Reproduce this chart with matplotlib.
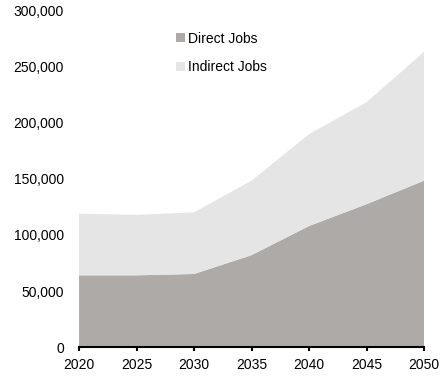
import matplotlib
matplotlib.use("Agg")
import matplotlib.pyplot as plt
from matplotlib.ticker import FuncFormatter

years = [2020, 2025, 2030, 2035, 2040, 2045, 2050]
direct_jobs = [64000, 64000, 65200, 82000, 108000, 127500, 148500]
indirect_jobs = [55000, 54000, 55000, 66500, 82000, 91000, 115000]
labels = ["Direct Jobs", "Indirect Jobs"]
colors = ["#adaaa8", "#e5e5e5"]

plt.rcParams['font.family'] = ['Liberation Sans', 'DejaVu Sans']
fig = plt.figure(figsize=(4.44, 3.76), dpi=100)
ax = fig.add_axes([0.178, 0.077, 0.777, 0.894])
ax.stackplot(years, direct_jobs, indirect_jobs, colors=colors, labels=labels, linewidth=0)
ax.set_xlim(2020, 2050)
ax.set_ylim(0, 300000)
ax.set_xticks(years)
ax.set_yticks(range(0, 300001, 50000))
ax.yaxis.set_major_formatter(FuncFormatter(lambda v, p: f"{int(v):,}"))
for s in ["top", "right", "left"]:
    ax.spines[s].set_visible(False)
ax.spines["bottom"].set_linewidth(1.5)
ax.spines["bottom"].set_color("black")
ax.tick_params(axis="y", length=0, labelsize=10, pad=11)
ax.tick_params(axis="x", length=3, width=1.5, direction="out", labelsize=10, pad=5)
ax.legend(loc="upper left", bbox_to_anchor=(0.282, 0.938), frameon=False, fontsize=10,
          handlelength=0.6, handleheight=0.6, handletextpad=0.25, labelspacing=1.05,
          borderpad=0, borderaxespad=0)
fig.savefig("out.png", dpi=100)
